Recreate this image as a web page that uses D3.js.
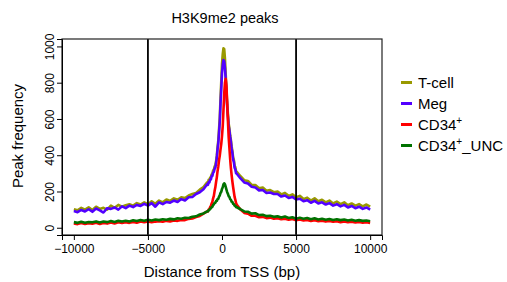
<!DOCTYPE html>
<html>
<head>
<meta charset="utf-8">
<style>
  body { margin: 0; background: #fff; }
  text { font-family: "Liberation Sans", Arial, sans-serif; fill: #000; }
</style>
</head>
<body>
<script src="https://cdn.jsdelivr.net/npm/d3@7"></script>
<script>
// bin positions (bp): 250 bp bins away from the TSS, 50 bp bins within +-1000
var posLeft = d3.range(-10000, -1000, 250);
var posMid = d3.range(-1000, 1001, 50);
var posRight = d3.range(1250, 10001, 250);
var positions = posLeft.concat(posMid, posRight);

var seriesNames = ["T-cell", "Meg", "CD34+", "CD34+_UNC"];
var seriesColors = ["#999900", "#5200ff", "#ff0000", "#007200"];

var tcell = [
  102,96,110,100,112,98,116,104,110,100,122,110,126,116,124,130,122,136,128,140,130,146,132,150,140,156,148,162,154,168,164,178,186,192,210,224,
  250,246,264,262,276,278,294,298,316,318,338,344,368,396,444,482,544,606,714,806,902,958,990,985,932,846,764,680,628,574,548,510,484,448,424,388,374,342,334,312,308,
  284,262,258,236,236,218,222,204,208,196,200,184,192,176,184,168,176,158,166,150,162,146,154,140,150,134,144,130,140,124,134,122,130,118,128,116
];
var meg = [
  92,86,98,90,102,88,106,96,84,108,104,112,100,118,108,122,114,126,120,132,122,136,116,140,130,142,138,150,142,158,150,168,170,186,196,212,
  240,236,252,250,266,266,284,286,304,308,326,331,354,386,434,466,524,586,684,766,852,898,925,918,882,818,744,666,614,561,534,501,474,436,414,376,364,331,322,301,298,
  272,250,244,226,222,206,208,192,194,186,186,172,178,164,170,156,160,146,152,138,148,134,140,128,136,122,130,118,126,112,120,108,116,104,112,100
];
var cd34 = [
  24,20,26,21,25,22,27,21,26,23,29,24,30,26,31,27,32,28,34,30,35,31,34,36,33,38,35,40,38,43,42,49,51,59,65,78,
  90,90,100,103,114,120,134,143,162,176,202,223,252,278,312,338,372,398,432,463,505,560,650,740,800,822,780,690,590,500,440,380,330,290,255,225,197,170,154,136,127,
  100,82,78,66,66,58,60,53,56,50,53,47,50,44,48,42,45,40,43,37,41,36,39,34,37,33,36,31,35,30,33,29,32,28,31,27
];
var cd34unc = [
  31,27,33,28,32,30,35,29,34,31,37,32,38,34,39,35,41,37,43,39,44,40,45,42,47,44,49,46,52,50,55,54,61,63,73,79,
  90,90,97,98,106,106,114,116,126,128,137,138,148,148,158,160,172,178,192,198,214,223,240,245,240,225,210,196,187,174,170,158,154,144,142,132,130,122,122,113,113,
  102,90,88,78,80,70,72,64,66,60,63,56,62,54,58,50,55,50,54,47,52,46,50,44,48,43,47,42,45,40,44,39,42,38,40,36
];
var allSeries = [tcell, meg, cd34, cd34unc];

var xTicks = [-10000, -5000, 0, 5000, 10000];
var yTicks = [0, 200, 400, 600, 800, 1000];
var guideLines = [-5000, 5000];

var width = 507, height = 282;
var plot = {left: 62, top: 39, right: 382, bottom: 235};

var svg = d3.select("body").append("svg")
  .attr("width", width)
  .attr("height", height);

var x = d3.scaleLinear().domain([-10800, 10800]).range([plot.left, plot.right]);
var y = d3.scaleLinear().domain([-40, 1041]).range([plot.bottom, plot.top]);

// series lines
var line = d3.line()
  .x(function(d, i) { return x(positions[i]); })
  .y(function(d) { return y(d); });

svg.selectAll("path.series")
  .data(allSeries)
  .enter().append("path")
  .attr("class", "series")
  .attr("fill", "none")
  .attr("stroke", function(d, i) { return seriesColors[i]; })
  .attr("stroke-width", 2.6)
  .attr("stroke-linejoin", "round")
  .attr("d", line);

// vertical guides at +-5kb
svg.selectAll("line.guide")
  .data(guideLines)
  .enter().append("line")
  .attr("class", "guide")
  .attr("x1", function(d) { return x(d); })
  .attr("x2", function(d) { return x(d); })
  .attr("y1", plot.top)
  .attr("y2", plot.bottom)
  .attr("stroke", "#000")
  .attr("stroke-width", 1.8);

// box
svg.append("rect")
  .attr("x", plot.left)
  .attr("y", plot.top)
  .attr("width", plot.right - plot.left)
  .attr("height", plot.bottom - plot.top)
  .attr("fill", "none")
  .attr("stroke", "#222")
  .attr("stroke-width", 1.2);

// axes
var xAxis = d3.axisBottom(x).tickValues(xTicks).tickSize(5).tickPadding(4)
  .tickFormat(function(d) { return d < 0 ? "\u2212" + Math.abs(d) : d; });
var gx = svg.append("g").attr("transform", "translate(0," + plot.bottom + ")").call(xAxis);
gx.selectAll("text").attr("font-size", "12px").attr("font-family", null).attr("fill", "#000");
gx.select(".domain").attr("stroke", "#000");

var yAxis = d3.axisLeft(y).tickValues(yTicks).tickSize(5).tickFormat(d3.format("d"));
var gy = svg.append("g").attr("transform", "translate(" + plot.left + ",0)").call(yAxis);
gy.selectAll("text")
  .attr("font-size", "12px")
  .attr("font-family", null)
  .attr("fill", "#000")
  .attr("text-anchor", "middle")
  .attr("x", null).attr("dy", null)
  .attr("transform", "translate(-8,0) rotate(-90)");
gy.select(".domain").attr("stroke", "#000");

// titles
svg.append("text")
  .attr("x", 225).attr("y", 22.5)
  .attr("text-anchor", "middle")
  .attr("font-size", "14.5px")
  .text("H3K9me2 peaks");

svg.append("text")
  .attr("x", 222).attr("y", 277)
  .attr("text-anchor", "middle")
  .attr("font-size", "15px")
  .text("Distance from TSS (bp)");

svg.append("text")
  .attr("transform", "translate(23,136) rotate(-90)")
  .attr("text-anchor", "middle")
  .attr("font-size", "15px")
  .text("Peak frequency");

// legend
var legend = svg.selectAll("g.legend")
  .data(seriesNames)
  .enter().append("g")
  .attr("class", "legend")
  .attr("transform", function(d, i) { return "translate(401," + (82.5 + i * 21) + ")"; });

legend.append("line")
  .attr("x1", 0).attr("x2", 11)
  .attr("stroke", function(d, i) { return seriesColors[i]; })
  .attr("stroke-width", 3);

legend.append("text")
  .attr("x", 17).attr("y", 5)
  .attr("font-size", "15px")
  .each(function(d) {
    var t = d3.select(this);
    var parts = d.split("+");
    t.append("tspan").text(parts[0]);
    if (parts.length > 1) {
      t.append("tspan").attr("font-size", "10px").attr("dy", -6).text("+");
      t.append("tspan").attr("dy", 6).text(parts[1]);
    }
  });
</script>
</body>
</html>
